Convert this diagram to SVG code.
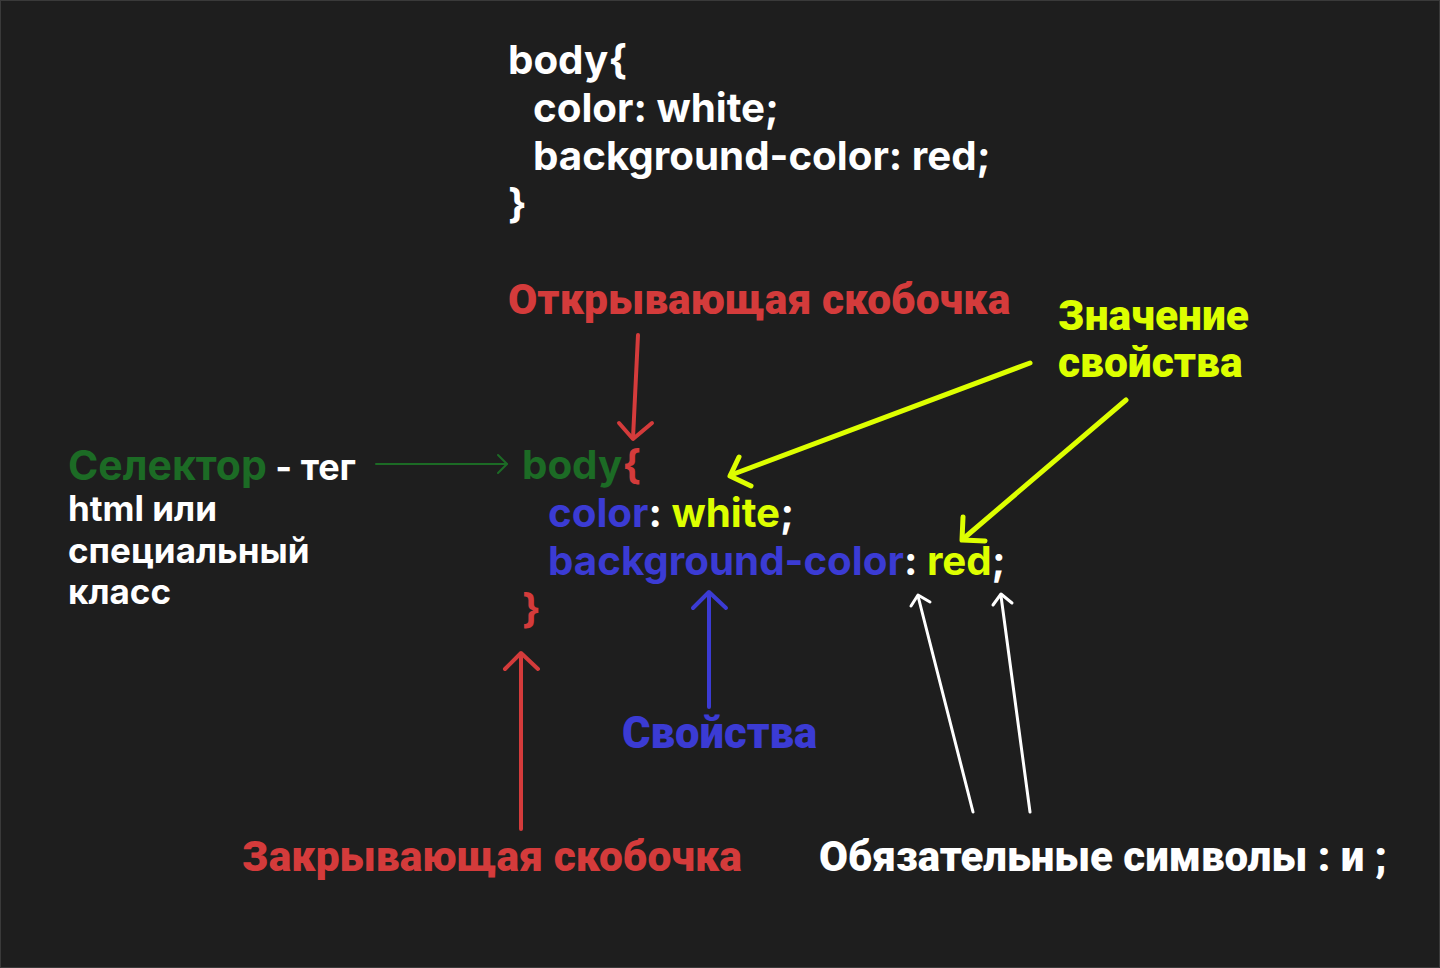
<svg xmlns="http://www.w3.org/2000/svg" width="1440" height="968" viewBox="0 0 1440 968">
<style>
.code{font-family:Inter,"Noto Sans",sans-serif;font-weight:700;font-size:40.3px;fill:#ffffff}
.lbl{font-family:Roboto,"Noto Sans",sans-serif;font-weight:900;font-size:42.5px}
.side{font-family:Inter,"Noto Sans",sans-serif;font-weight:700;font-size:35px;fill:#ffffff}
.g{fill:#1c6b25}.r{fill:#d43b3b}.b{fill:#3b3bd4}.y{fill:#ddff00}.w{fill:#ffffff}
.ln{fill:none;stroke-linecap:round;stroke-linejoin:round}
</style>
<rect x="0.5" y="0.5" width="1439" height="967" fill="#1e1e1e" stroke="#3a3a3a" stroke-width="1"/>
<g id="code-top">
<text class="code" x="508" y="74">body{</text>
<text class="code" x="533" y="122">color: white;</text>
<text class="code" x="533" y="170">background-color: red;</text>
<text class="code" x="508" y="218">}</text>
</g>
<g id="code-annotated">
<text class="code" x="522" y="479"><tspan class="g">body</tspan><tspan class="r">{</tspan></text>
<text class="code" x="548" y="527"><tspan class="b">color</tspan><tspan class="w">: </tspan><tspan class="y">white</tspan><tspan class="w">;</tspan></text>
<text class="code" x="548" y="575"><tspan class="b">background-color</tspan><tspan class="w">: </tspan><tspan class="y">red</tspan><tspan class="w">;</tspan></text>
<text class="code r" x="522" y="623">}</text>
</g>
<g id="label-open"><text class="lbl r" x="508" y="314">Открывающая скобочка</text></g>
<g id="label-value"><text class="lbl y" x="1058" y="330">Значение</text><text class="lbl y" x="1058" y="377">свойства</text></g>
<g id="label-selector">
<text class="side" x="68" y="480"><tspan class="g" style="font-size:41px">Селектор</tspan><tspan style="font-size:36px"> - тег</tspan></text>
<text class="side" x="68" y="521">html или</text>
<text class="side" x="68" y="563">специальный</text>
<text class="side" x="68" y="604">класс</text>
</g>
<g id="label-props"><text class="lbl b" x="622" y="748" style="font-size:43.6px">Свойства</text></g>
<g id="label-close"><text class="lbl r" x="242" y="871">Закрывающая скобочка</text></g>
<g id="label-required"><text class="lbl w" x="819" y="871" style="font-size:42px">Обязательные символы : и ;</text></g>
<g id="connectors">
<g stroke="#d43b3b" stroke-width="4" class="ln">
<path d="M638 335 L633 438"/><path d="M619 423 L633 439 L652 423"/>
<path d="M521 829 L521 654"/><path d="M505 669 L521 653 L538 669"/>
</g>
<g stroke="#1c6b25" stroke-width="2" class="ln">
<path d="M376 464 L507 464"/><path d="M498 455 L507 464 L498 473"/>
</g>
<g stroke="#ddff00" stroke-width="5" class="ln">
<path d="M1030 363 L731 475"/><path d="M739 457 L730 476 L751 486"/>
<path d="M1126 400 L963 539"/><path d="M963 517 L962 540 L985 541"/>
</g>
<g stroke="#3b3bd4" stroke-width="4" class="ln">
<path d="M709 707 L709 593"/><path d="M693 608 L709 592 L726 608"/>
</g>
<g stroke="#ffffff" stroke-width="3" class="ln">
<path d="M973 812 L918 596"/><path d="M911 606 L918 595 L930 602"/>
<path d="M1030 812 L1001 596"/><path d="M993 605 L1001 594 L1012 603"/>
</g>
</g>
</svg>
